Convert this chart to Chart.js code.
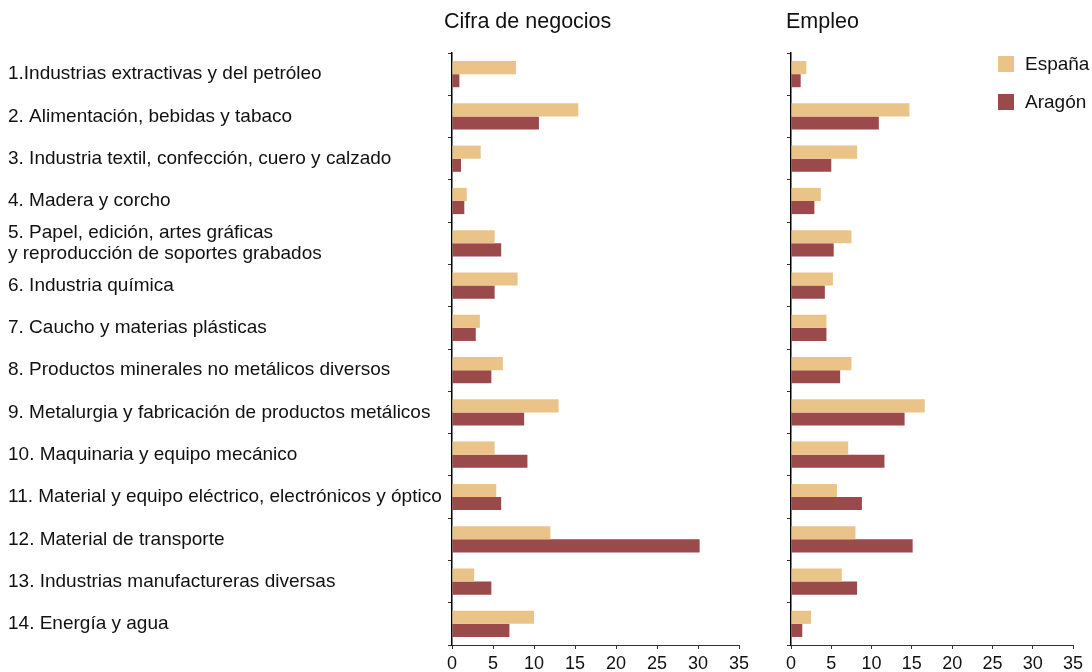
<!DOCTYPE html>
<html>
<head>
<meta charset="utf-8">
<script src="https://cdn.jsdelivr.net/npm/chart.js@4.4.1/dist/chart.umd.min.js"></script>
<style>
  body { margin: 0; background: #fff; font-family: "Liberation Sans", Arial, sans-serif; }
  #wrap { position: relative; width: 1092px; height: 672px; overflow: hidden; }
  #left { position: absolute; left: 0; top: 0; }
  #right { position: absolute; left: 760px; top: 0; }
  .title { position: absolute; top: 9px; font-size: 21.5px; color: #111; white-space: nowrap; }
  #legend { position: absolute; left: 998px; top: 45px; font-size: 19px; color: #111; }
  .item { display: flex; align-items: center; height: 38px; }
  .box { width: 16px; height: 16px; margin-right: 11px; }
</style>
</head>
<body>
<div id="wrap">
  <canvas id="left" width="760" height="672"></canvas>
  <canvas id="right" width="332" height="672"></canvas>
  <div class="title" style="left:444px">Cifra de negocios</div>
  <div class="title" style="left:786px">Empleo</div>
  <div id="legend"></div>
</div>
<script>
const sectors = [
  "1.Industrias extractivas y del petróleo",
  "2. Alimentación, bebidas y tabaco",
  "3. Industria textil, confección, cuero y calzado",
  "4. Madera y corcho",
  ["5. Papel, edición, artes gráficas", "y reproducción de soportes grabados"],
  "6. Industria química",
  "7. Caucho y materias plásticas",
  "8. Productos minerales no metálicos diversos",
  "9. Metalurgia y fabricación de productos metálicos",
  "10. Maquinaria y equipo mecánico",
  "11. Material y equipo eléctrico, electrónicos y óptico",
  "12. Material de transporte",
  "13. Industrias manufactureras diversas",
  "14. Energía y agua"
];

// Cifra de negocios (%)
const negociosEspana = [7.8, 15.4, 3.5, 1.8, 5.2, 8.0, 3.4, 6.2, 13.0, 5.2, 5.4, 12.0, 2.7, 10.0];
const negociosAragon = [0.9, 10.6, 1.1, 1.5, 6.0, 5.2, 2.9, 4.8, 8.8, 9.2, 6.0, 30.2, 4.8, 7.0];

// Empleo (%)
const empleoEspana = [1.9, 14.7, 8.2, 3.7, 7.5, 5.2, 4.4, 7.5, 16.6, 7.1, 5.7, 8.0, 6.3, 2.5];
const empleoAragon = [1.2, 10.9, 5.0, 2.9, 5.3, 4.2, 4.4, 6.1, 14.1, 11.6, 8.8, 15.1, 8.2, 1.4];

const seriesNames = ["España", "Aragón"];
const seriesColors = ["#EAC388", "#9B4A4C"];

const FONT = "'Liberation Sans', Arial, sans-serif";

function makeDatasets(a, b) {
  return [a, b].map((data, i) => ({
    label: seriesNames[i],
    data: data,
    backgroundColor: seriesColors[i],
    borderWidth: 0,
    categoryPercentage: 0.62,
    barPercentage: 1
  }));
}

function makeOptions(showLabels, yWidth, rightPad) {
  return {
    indexAxis: "y",
    responsive: false,
    animation: false,
    layout: { padding: { top: 53, left: showLabels ? 8 : 0, right: rightPad, bottom: 0 } },
    plugins: { legend: { display: false }, tooltip: { enabled: false } },
    scales: {
      x: {
        min: 0,
        max: 35,
        ticks: { stepSize: 5, color: "#111", font: { family: FONT, size: 18 }, padding: 4, maxRotation: 0 },
        grid: { drawOnChartArea: false, drawTicks: true, tickLength: 4, color: "#333" },
        border: { color: "#333", width: 1 },
        afterFit: (s) => { s.height = 27; }
      },
      y: {
        ticks: {
          display: showLabels,
          autoSkip: false,
          crossAlign: "far",
          color: "#111",
          font: { family: FONT, size: 19, lineHeight: 1.08 }
        },
        grid: { drawOnChartArea: false, drawTicks: true, tickLength: 4, color: "#333", offset: true },
        border: { color: "#000", width: 1.5 },
        afterFit: (s) => { s.width = yWidth; }
      }
    }
  };
}

new Chart(document.getElementById("left"), {
  type: "bar",
  data: { labels: sectors, datasets: makeDatasets(negociosEspana, negociosAragon) },
  options: makeOptions(true, 444, 21)
});

new Chart(document.getElementById("right"), {
  type: "bar",
  data: { labels: sectors, datasets: makeDatasets(empleoEspana, empleoAragon) },
  options: makeOptions(false, 31, 19)
});

// legend
const legend = document.getElementById("legend");
seriesNames.forEach((name, i) => {
  legend.innerHTML += `<div class="item"><div class="box" style="background:${seriesColors[i]}"></div>${name}</div>`;
});
</script>
</body>
</html>
